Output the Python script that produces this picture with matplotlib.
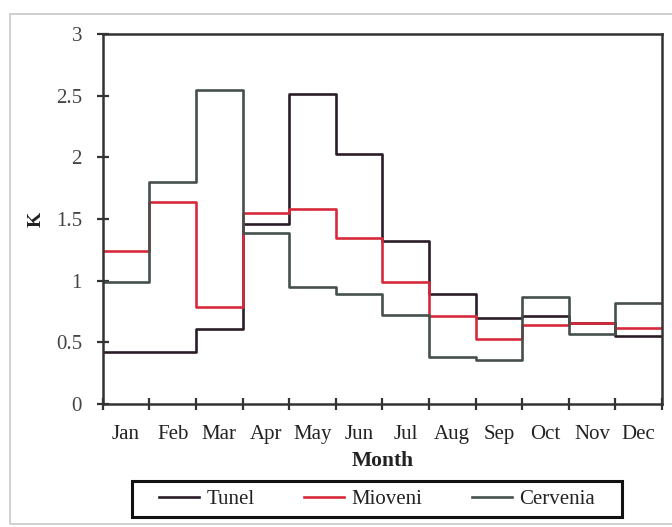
# K coefficient by month for three sites, drawn as step lines
import matplotlib.pyplot as plt
from matplotlib.patches import Rectangle

months = ['Jan', 'Feb', 'Mar', 'Apr', 'May', 'Jun',
          'Jul', 'Aug', 'Sep', 'Oct', 'Nov', 'Dec']
tunel = [0.42, 0.42, 0.61, 1.46, 2.51, 2.03, 1.32, 0.89, 0.70, 0.71, 0.66, 0.55]
mioveni = [1.24, 1.64, 0.79, 1.55, 1.58, 1.35, 0.99, 0.71, 0.53, 0.64, 0.66, 0.62]
cervenia = [0.99, 1.80, 2.55, 1.39, 0.95, 0.89, 0.72, 0.38, 0.36, 0.87, 0.57, 0.82]

plt.rcParams['font.family'] = ['Liberation Serif', 'DejaVu Serif']

fig = plt.figure(figsize=(6.72, 5.27), dpi=100)
# light frame around the whole chart, as in the scanned figure
fig.patches.append(Rectangle((0.015, 0.005), 1.0, 0.968, transform=fig.transFigure,
                             fill=False, edgecolor='#c8c8c8', linewidth=1.2))
ax = fig.add_axes([0.153, 0.2334, 0.832, 0.702])

x = list(range(13))
series = [(tunel, 'Tunel', '#2a1c28'),
          (mioveni, 'Mioveni', '#d62a3c'),
          (cervenia, 'Cervenia', '#45504b')]
for vals, name, color in series:
    ax.step(x, vals + [vals[-1]], where='post', color=color, linewidth=1.9, label=name)

ax.set_xlim(0, 12)
ax.set_ylim(0, 3)
ax.set_xticks(range(13))
ax.set_xticklabels([])
ax.set_xticks([i + 0.5 for i in range(12)], minor=True)
ax.set_xticklabels(months, minor=True, fontsize=15, color='#222222')
ax.tick_params(axis='x', which='minor', length=0, pad=15)
ax.tick_params(axis='x', which='major', direction='inout', length=8, width=1.6, color='#333333')
ax.set_yticks([0, 0.5, 1, 1.5, 2, 2.5, 3])
ax.set_yticklabels(['0', '0.5', '1', '1.5', '2', '2.5', '3'], fontsize=15, color='#444444')
ax.tick_params(axis='y', direction='inout', length=9, width=1.6, color='#333333', pad=10.5)
for sp in ax.spines.values():
    sp.set_linewidth(1.8)
    sp.set_color('#333333')

ax.set_xlabel('Month', fontsize=15.5, fontweight='bold', color='#222222')
ax.xaxis.set_label_coords(0.5, -0.128)
ax.set_ylabel('K', fontsize=14, fontweight='bold', color='#222222')
ax.yaxis.set_label_coords(-0.104, 0.5)

leg = fig.legend(loc='center', bbox_to_anchor=(0.561, 0.053), ncol=3, fontsize=15,
                 frameon=False, handlelength=1.9, columnspacing=2.4,
                 handletextpad=0.35, labelcolor='#222222')
# boxed legend frame with wider side margins than the legend's own frame allows
fig.patches.append(Rectangle((132 / 672, 10 / 527), 490 / 672, 36 / 527,
                             transform=fig.transFigure, fill=False,
                             edgecolor='#111111', linewidth=2.2))

plt.savefig('out.png', dpi=100)
